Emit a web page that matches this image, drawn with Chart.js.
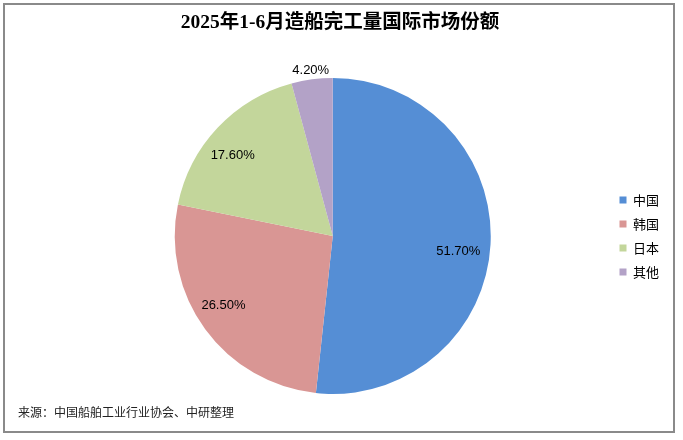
<!DOCTYPE html>
<html><head><meta charset="utf-8">
<script src="https://cdn.jsdelivr.net/npm/chart.js@4.4.1/dist/chart.umd.min.js"></script>
<style>html,body{margin:0;padding:0;background:#fff}#wrap{width:683px;height:440px}</style>
</head><body><div id="wrap"><canvas id="c" width="683" height="440"></canvas></div>
<script>
const categories = ['中国', '韩国', '日本', '其他'];
const shares = [51.7, 26.5, 17.6, 4.2];
const colors = ['#558ED5', '#D99694', '#C3D69B', '#B3A2C7'];
const titleText = '2025年1-6月造船完工量国际市场份额';
const sourceText = '来源：中国船舶工业行业协会、中研整理';

const frame = {
  id: 'frame',
  beforeDraw(chart) {
    const ctx = chart.ctx;
    ctx.save();
    ctx.fillStyle = '#fff';
    ctx.fillRect(0, 0, chart.width, chart.height);
    ctx.strokeStyle = '#8a8a8a';
    ctx.lineWidth = 2;
    ctx.strokeRect(4, 4, 670, 428);
    ctx.fillStyle = '#000';
    ctx.textAlign = 'center';
    ctx.textBaseline = 'middle';
    ctx.font = 'bold 19.5px "Liberation Serif", "Noto Sans CJK SC", serif';
    ctx.fillText(titleText, 340, 23);
    ctx.textAlign = 'left';
    ctx.font = '12px "Noto Sans CJK SC", sans-serif';
    ctx.fillStyle = '#222';
    ctx.fillText(sourceText, 18, 412);
    ctx.restore();
  },
  afterDatasetsDraw(chart, args, opts) {
    const ctx = chart.ctx;
    const meta = chart.getDatasetMeta(0);
    ctx.save();
    ctx.fillStyle = '#000';
    ctx.font = '13px "Liberation Sans", Arial, sans-serif';
    ctx.textAlign = 'center';
    ctx.textBaseline = 'middle';
    meta.data.forEach((arc, i) => {
      const p = arc.getProps(['x', 'y', 'startAngle', 'endAngle', 'outerRadius'], true);
      const a = (p.startAngle + p.endAngle) / 2 + opts.nudge[i] * Math.PI / 180;
      const r = p.outerRadius * opts.radius[i];
      ctx.fillText(shares[i].toFixed(2) + '%', p.x + Math.cos(a) * r, p.y + Math.sin(a) * r);
    });
    ctx.restore();
  }
};

new Chart(document.getElementById('c'), {
  type: 'pie',
  data: {
    labels: categories,
    datasets: [{ data: shares, backgroundColor: colors, borderColor: '#ffffff', borderWidth: 0 }]
  },
  options: {
    responsive: false,
    animation: false,
    layout: { padding: { top: 78, bottom: 46, left: 57, right: 14 } },
    plugins: {
      tooltip: { enabled: false },
      title: { display: false },
      frame: { radius: [0.80, 0.82, 0.815, 1.06], nudge: [3.8, 3.7, -4.2, 0] },
      legend: {
        position: 'right',
        labels: {
          boxWidth: 7, boxHeight: 7, padding: 11,
          color: '#000',
          font: { size: 13, family: '"Noto Sans CJK SC", sans-serif' }
        }
      }
    }
  },
  plugins: [frame]
});
</script></body></html>
